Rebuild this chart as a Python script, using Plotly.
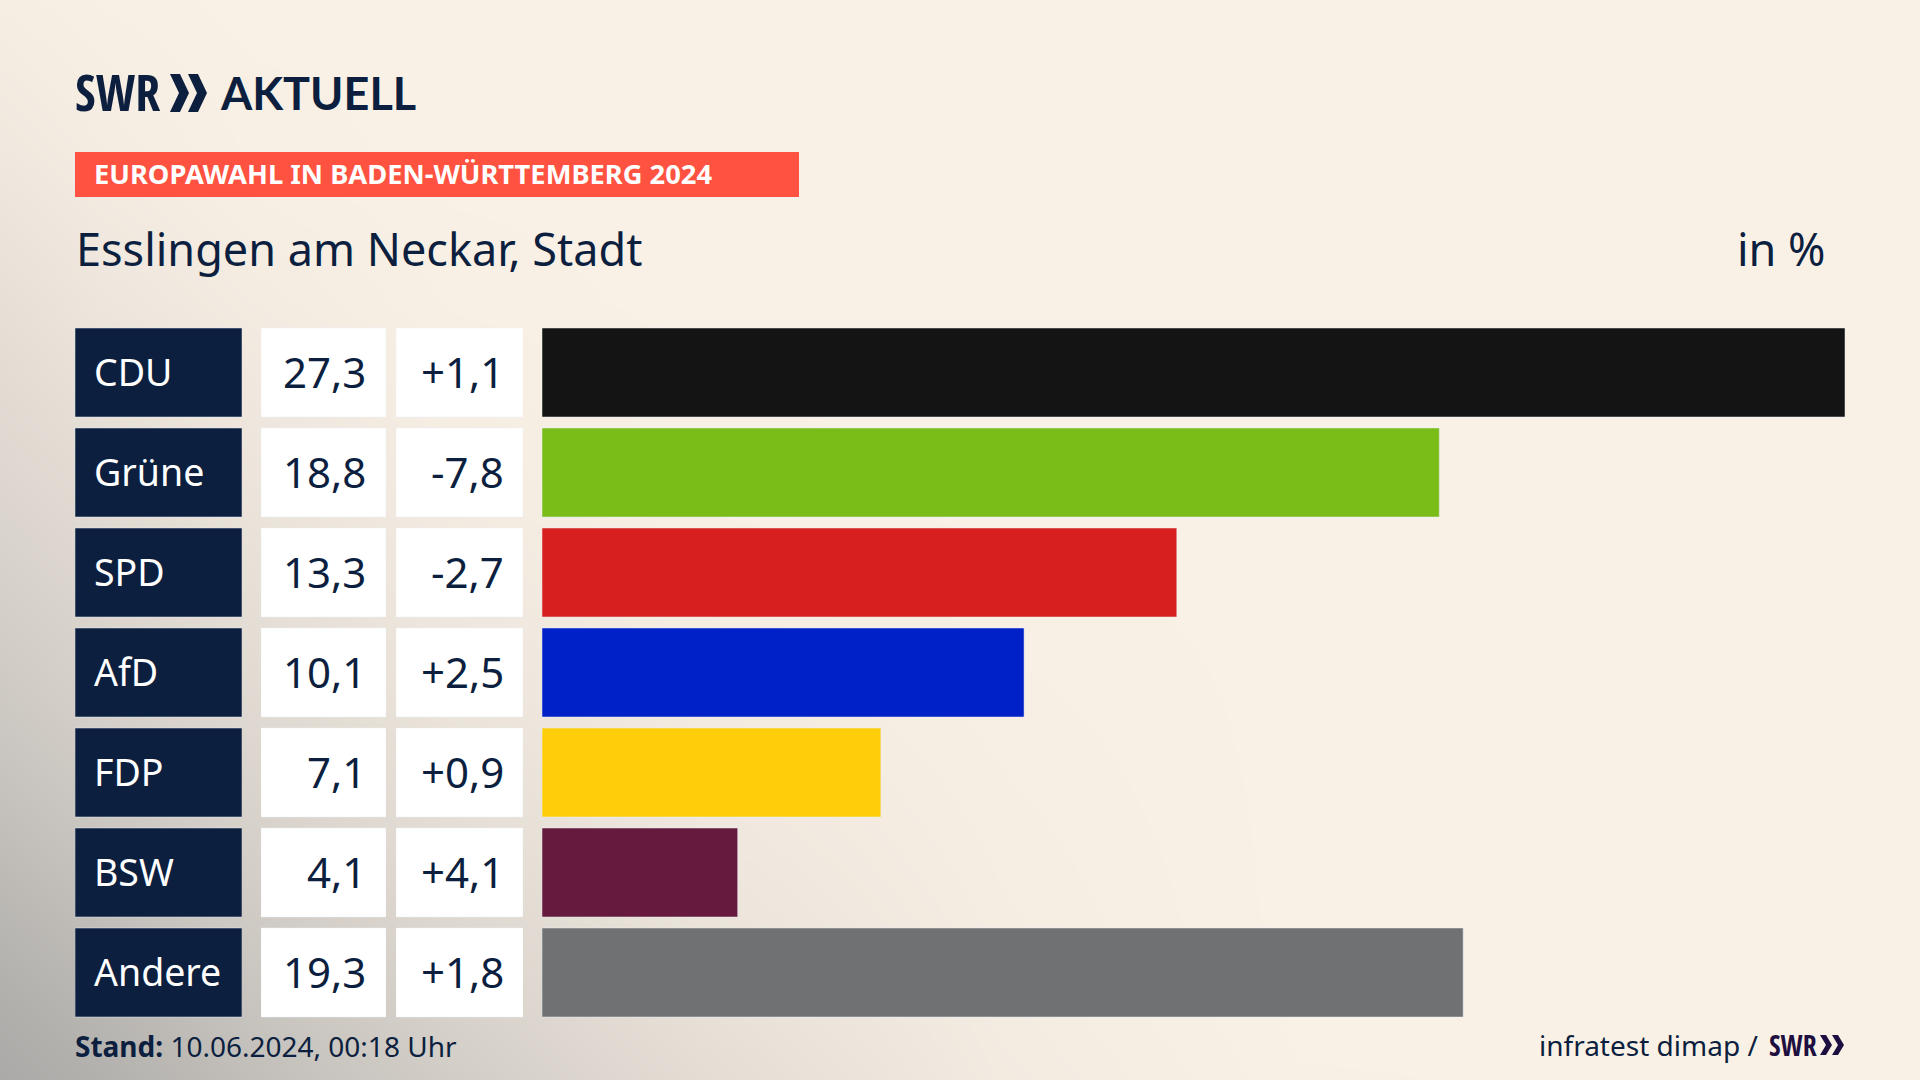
import plotly.graph_objects as go

W = 1920
H = 1080

parties = ["CDU", "Grüne", "SPD", "AfD", "FDP", "BSW", "Andere"]
shares = [27.3, 18.8, 13.3, 10.1, 7.1, 4.1, 19.3]
share_labels = ["27,3", "18,8", "13,3", "10,1", "7,1", "4,1", "19,3"]
diff_labels = ["+1,1", "-7,8", "-2,7", "+2,5", "+0,9", "+4,1", "+1,8"]
bar_colors = ["#141414", "#7ABD19", "#D7201E", "#0021C7", "#FFCE0A", "#661A3D", "#707173"]

# background wash (0 = cream, 1 = grey)
bg_x = [0, 100, 250, 450, 700, 1000, 1300, 1920]
bg_y = [0, 150, 300, 500, 700, 850, 1000, 1080]
bg_z = [
    [0.05, 0.02, 0.00, 0.00, 0.00, 0.00, 0.00, 0.00],
    [0.12, 0.07, 0.02, 0.00, 0.00, 0.00, 0.00, 0.00],
    [0.24, 0.15, 0.08, 0.02, 0.00, 0.00, 0.00, 0.00],
    [0.38, 0.30, 0.18, 0.08, 0.02, 0.00, 0.00, 0.00],
    [0.55, 0.45, 0.32, 0.17, 0.08, 0.03, 0.00, 0.00],
    [0.72, 0.62, 0.46, 0.28, 0.14, 0.05, 0.00, 0.00],
    [0.90, 0.80, 0.62, 0.42, 0.22, 0.07, 0.00, 0.00],
    [0.98, 0.88, 0.70, 0.50, 0.28, 0.09, 0.01, 0.00],
]

NAVY = "#0C1F3F"
FONT = "Noto Sans"
LOGO_FONT = "Open Sans Condensed"


def px(x):
    return x / W


def py(y):
    return 1 - y / H


def chevron(x0, y0, y1, w, t, color):
    # one ">" of the SWR mark, in pixels
    ym = (y0 + y1) / 2
    pts = [(x0, y0), (x0 + t, y0), (x0 + w, ym), (x0 + t, y1), (x0, y1), (x0 + w - t, ym)]
    path = "M " + " L ".join(f"{px(a):.5f} {py(b):.5f}" for a, b in pts) + " Z"
    return dict(type="path", xref="paper", yref="paper", path=path, fillcolor=color, line_width=0)


def label(text, x, y, size, color=NAVY, family=FONT, anchor="left"):
    return dict(text=text, xref="paper", yref="paper", x=px(x), y=py(y), xanchor=anchor, yanchor="middle",
                showarrow=False, font=dict(family=family, size=size, color=color))


fig = go.Figure()

fig.add_trace(go.Heatmap(x=bg_x, y=bg_y, z=bg_z, zmin=0, zmax=1, zsmooth="best", showscale=False, hoverinfo="skip",
                         colorscale=[[0, "#FAF1E6"], [1, "#A9A8A6"]]))

one = [1] * len(parties)
fig.add_trace(go.Bar(x=one, y=parties, orientation="h", marker_color=NAVY, xaxis="x2", yaxis="y2", hoverinfo="skip"))
fig.add_trace(go.Bar(x=one, y=parties, orientation="h", marker_color="white", xaxis="x3", yaxis="y2", hoverinfo="skip"))
fig.add_trace(go.Bar(x=one, y=parties, orientation="h", marker_color="white", xaxis="x4", yaxis="y2", hoverinfo="skip"))
fig.add_trace(go.Bar(x=shares, y=parties, orientation="h", marker_color=bar_colors, xaxis="x5", yaxis="y2"))

hidden = dict(visible=False, fixedrange=True)
fig.update_layout(
    width=W, height=H, margin=dict(l=0, r=0, t=0, b=0),
    paper_bgcolor="#FAF1E6", plot_bgcolor="rgba(0,0,0,0)",
    showlegend=False, bargap=0.11,
    font=dict(family=FONT, color=NAVY),
    xaxis=dict(domain=[0, 1], range=[0, W], **hidden),
    yaxis=dict(domain=[0, 1], range=[H, 0], **hidden),
    xaxis2=dict(domain=[px(75), px(242)], range=[0, 1], anchor="y2", **hidden),
    xaxis3=dict(domain=[px(261), px(386)], range=[0, 1], anchor="y2", **hidden),
    xaxis4=dict(domain=[px(396), px(523)], range=[0, 1], anchor="y2", **hidden),
    xaxis5=dict(domain=[px(542), px(1845)], range=[0, 27.3], anchor="y2", **hidden),
    yaxis2=dict(domain=[py(1022.5), py(322.5)], type="category", categoryorder="array", categoryarray=parties,
                range=[6.5, -0.5], anchor="x2", **hidden),
)

annotations = []
for party, share, diff in zip(parties, share_labels, diff_labels):
    annotations.append(dict(text=party, xref="x2", yref="y2", x=0, y=party, xanchor="left", xshift=17, yshift=1,
                            showarrow=False, font=dict(family=FONT, size=37.5, color="white")))
    annotations.append(dict(text=share, xref="x3", yref="y2", x=1, y=party, xanchor="right", xshift=-18, yshift=1,
                            showarrow=False, font=dict(family=FONT, size=42, color=NAVY)))
    annotations.append(dict(text=diff, xref="x4", yref="y2", x=1, y=party, xanchor="right", xshift=-17, yshift=1,
                            showarrow=False, font=dict(family=FONT, size=42, color=NAVY)))

annotations += [
    label("<b>SWR</b>", 73, 92, 50, family=LOGO_FONT),
    label("<b>AKTUELL</b>", 218, 93, 45, family="Lato"),
    label("<b>EUROPAWAHL IN BADEN-WÜRTTEMBERG 2024</b>", 92, 174, 27.3, color="white"),
    label("Esslingen am Neckar, Stadt", 74, 248, 45),
    label("in %", 1828, 248, 45, anchor="right"),
    label("<b>Stand:</b> 10.06.2024, 00:18 Uhr", 73, 1046, 28),
    label("infratest dimap /", 1537, 1045, 28),
    label("<b>SWR</b>", 1767, 1045, 28, color="#1D0F40", family=LOGO_FONT),
]

shapes = [
    dict(type="rect", xref="paper", yref="paper", x0=px(75), x1=px(799), y0=py(197), y1=py(152),
         fillcolor="#FF5240", line_width=0),
    chevron(170, 74, 112, 19, 10, NAVY),
    chevron(188, 74, 112, 19, 10, NAVY),
    chevron(1820, 1035, 1055, 12, 6, "#1D0F40"),
    chevron(1832, 1035, 1055, 12, 6, "#1D0F40"),
]

fig.update_layout(annotations=annotations, shapes=shapes)
# layer above the heatmap
fig.update_shapes(layer="above")

fig.write_html("out.html", config=dict(displayModeBar=False),
               post_script="document.body.style.margin='0';")
